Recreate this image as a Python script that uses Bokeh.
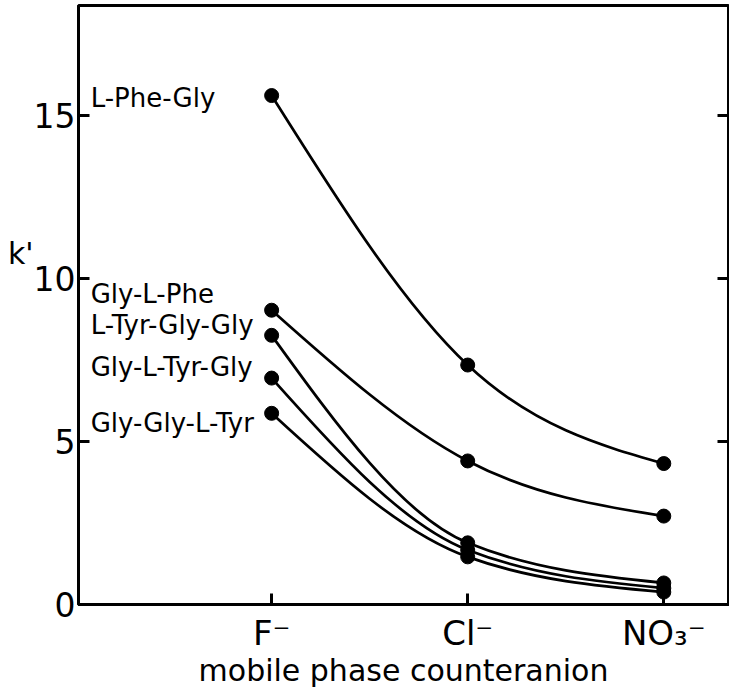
import numpy as np
from bokeh.plotting import figure
from bokeh.models import FixedTicker, LinearAxis, ColumnDataSource
from bokeh.core.properties import value
from bokeh.embed import file_html
from bokeh.resources import INLINE

# ---- data -------------------------------------------------------------
anion_labels = ["F⁻", "Cl⁻", "NO₃⁻"]
anion_pos = [1, 2, 3]
peptides = ["L-Phe-Gly", "Gly-L-Phe", "L-Tyr-Gly-Gly", "Gly-L-Tyr-Gly", "Gly-Gly-L-Tyr"]
k_phe_gly = [15.6, 7.34, 4.32]
k_gly_phe = [9.02, 4.40, 2.71]
k_tyr_gly_gly = [8.25, 1.89, 0.66]
k_gly_tyr_gly = [6.94, 1.67, 0.50]
k_gly_gly_tyr = [5.86, 1.46, 0.38]
y_ticks = [0, 5, 10, 15]
x_label = "mobile phase counteranion"
y_label = "k'"

series = [k_phe_gly, k_gly_phe, k_tyr_gly_gly, k_gly_tyr_gly, k_gly_gly_tyr]

# layout constants
label_dx = -181                 # px offset of peptide names from first point
label_dy = [2, -16, -10, -11, 10]
k_label_y = 10.75               # height at which the y-axis title sits

FONT = "DejaVu Sans"


def monotone_bezier(xs, ys):
    """Monotone cubic (Fritsch-Carlson / d3 monotoneX) as bezier segments."""
    xs = np.asarray(xs, float)
    ys = np.asarray(ys, float)
    h = np.diff(xs)
    s = np.diff(ys) / h
    n = len(xs)
    t = np.zeros(n)
    for i in range(1, n - 1):
        p = (s[i - 1] * h[i] + s[i] * h[i - 1]) / (h[i - 1] + h[i])
        t[i] = (np.sign(s[i - 1]) + np.sign(s[i])) * min(abs(s[i - 1]), abs(s[i]), 0.5 * abs(p))
    t[0] = (3 * s[0] - t[1]) / 2
    t[-1] = (3 * s[-1] - t[-2]) / 2
    return dict(
        x0=xs[:-1], y0=ys[:-1], x1=xs[1:], y1=ys[1:],
        cx0=xs[:-1] + h / 3, cy0=ys[:-1] + t[:-1] * h / 3,
        cx1=xs[1:] - h / 3, cy1=ys[1:] - t[1:] * h / 3,
    )


p = figure(
    width=729, height=690,
    x_range=(0.015, 3.33), y_range=(0, 18.36),
    output_backend="svg", toolbar_location=None,
    min_border_left=78, min_border_right=1, min_border_top=5, min_border_bottom=85,
    background_fill_color="white", border_fill_color="white",
)
p.xgrid.visible = False
p.ygrid.visible = False
p.outline_line_color = "black"
p.outline_line_width = 3

for ys in series:
    p.bezier(source=ColumnDataSource(monotone_bezier(anion_pos, ys)),
             x0="x0", y0="y0", x1="x1", y1="y1",
             cx0="cx0", cy0="cy0", cx1="cx1", cy1="cy1",
             line_color="black", line_width=2.7)
    p.scatter(anion_pos, ys, size=14, color="black", marker="circle")

# series labels
p.text(x=[anion_pos[0]] * len(peptides), y=[s[0] for s in series], text=peptides,
       x_offset=label_dx, y_offset=label_dy,
       text_font=value(FONT), text_font_size="26px", text_color="black",
       text_align="left", text_baseline="middle")

# x axis
xa = p.xaxis[0]
xa.ticker = FixedTicker(ticks=anion_pos)
xa.major_label_overrides = {pos: lab for pos, lab in zip(anion_pos, anion_labels)}
xa.major_label_text_font = FONT
xa.major_label_text_font_size = "34px"
xa.major_label_standoff = 8
xa.axis_label = x_label
xa.axis_label_text_font = FONT
xa.axis_label_text_font_size = "30px"
xa.axis_label_text_font_style = "normal"
xa.axis_label_text_color = "black"
xa.axis_label_standoff = -3

# y axis
ya = p.yaxis[0]
ya.ticker = FixedTicker(ticks=y_ticks)
ya.major_label_text_font = FONT
ya.major_label_text_font_size = "33px"
ya.major_label_standoff = 3

for ax in (xa, ya):
    ax.axis_line_width = 3
    ax.major_tick_line_width = 3
    ax.major_tick_in = 11
    ax.major_tick_out = 0
    ax.minor_tick_in = 0
    ax.minor_tick_out = 0
    ax.major_label_text_color = "black"

# y-axis title "k'" drawn as a horizontal label by a bare outer axis
ka = LinearAxis(ticker=FixedTicker(ticks=[k_label_y]),
                major_label_overrides={k_label_y: y_label},
                major_label_text_font=FONT, major_label_text_font_size="30px",
                major_label_text_color="black", major_label_standoff=-3,
                axis_line_color=None, major_tick_line_color=None,
                minor_tick_line_color=None, major_tick_in=0, major_tick_out=0,
                minor_tick_in=0, minor_tick_out=0)
p.add_layout(ka, "left")

# right-side ticks (no labels)
ra = LinearAxis(ticker=FixedTicker(ticks=y_ticks),
                major_label_overrides={t: "" for t in y_ticks},
                major_label_text_color=None, major_label_text_font_size="1px",
                major_label_standoff=0, axis_line_width=3, major_tick_line_width=3,
                major_tick_in=11, major_tick_out=0, minor_tick_in=0, minor_tick_out=0)
p.add_layout(ra, "right")

open("out.html", "w").write(file_html(p, INLINE))
